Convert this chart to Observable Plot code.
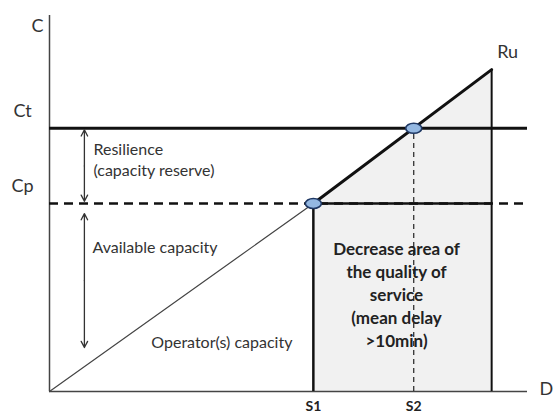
<!DOCTYPE html>
<html>
<head>
<meta charset="utf-8">
<script src="https://cdn.jsdelivr.net/npm/d3@7"></script>
<script src="https://cdn.jsdelivr.net/npm/@observablehq/plot@0.6"></script>
<style>
  html, body { margin: 0; padding: 0; background: #fff; }
</style>
</head>
<body>
<div id="chart"></div>
<script>
// ---- values (abstract units: D and C both 0..100) ----
const D_MAX = 100, C_MAX = 100;
const S1 = 55.2, S2 = 76.2, RU_D = 92.5;
const CP = 50, CT = 70, RU_C = 85.6;
const levelLabels = ["Ct", "Cp"];
const levelValues = [CT, CP];
const sLabels = ["S1", "S2"];
const sValues = [S1, S2];
const boxText = ["Decrease area of", "the quality of", "service", "(mean delay", ">10min)"];
const resilienceText = ["Resilience", "(capacity reserve)"];
const ARROW_X = 7.3;
const AVAIL_TOP = 47.3, AVAIL_BOTTOM = 11.7;

// ---- derived tables ----
const thin = [{x: 0, y: 0}, {x: S1, y: CP}];
const thick = [{x: S1, y: CP}, {x: RU_D, y: RU_C}];
const points = [{x: S1, y: CP}, {x: S2, y: CT}];
const levels = levelLabels.map((l, i) => ({label: l, y: levelValues[i]}));
const sTicks = sLabels.map((l, i) => ({label: l, x: sValues[i]}));

const resMid = (CT + CP) / 2, availMid = (AVAIL_TOP + AVAIL_BOTTOM) / 2;
const arrows = [
  {x1: ARROW_X, y1: resMid, x2: ARROW_X, y2: CT - 0.4},
  {x1: ARROW_X, y1: resMid, x2: ARROW_X, y2: CP + 0.6},
  {x1: ARROW_X, y1: availMid, x2: ARROW_X, y2: AVAIL_TOP},
  {x1: ARROW_X, y1: availMid, x2: ARROW_X, y2: AVAIL_BOTTOM}
];

// ellipse symbol for the intersection points
const ellipse = {
  draw(context) {
    const rx = 8, ry = 5, k = 0.5523;
    context.moveTo(rx, 0);
    context.bezierCurveTo(rx, k * ry, k * rx, ry, 0, ry);
    context.bezierCurveTo(-k * rx, ry, -rx, k * ry, -rx, 0);
    context.bezierCurveTo(-rx, -k * ry, -k * rx, -ry, 0, -ry);
    context.bezierCurveTo(k * rx, -ry, rx, -k * ry, rx, 0);
    context.closePath();
  }
};

const font = "Lato, 'Open Sans', sans-serif";

const chart = Plot.plot({
  width: 553,
  height: 414,
  marginLeft: 49,
  marginRight: 26,
  marginTop: 15,
  marginBottom: 23,
  style: {fontFamily: font, background: "#fff", overflow: "visible"},
  x: {domain: [0, D_MAX], axis: null},
  y: {domain: [0, C_MAX], axis: null},
  marks: [
    // shaded area
    Plot.areaY([{x: S1, y: CP, y0: 0}, {x: RU_D, y: RU_C, y0: 0}], {x: "x", y1: "y0", y2: "y", fill: "#f1f1f1"}),
    // axes
    Plot.ruleX([0], {y1: 0, y2: C_MAX, stroke: "#444", strokeWidth: 1.5}),
    Plot.ruleY([0], {x1: 0, x2: D_MAX, stroke: "#444", strokeWidth: 1.5}),
    // thin operator capacity line
    Plot.line(thin, {x: "x", y: "y", stroke: "#444", strokeWidth: 1.2}),
    // S2 dashed vertical
    Plot.ruleX([S2], {y1: 0, y2: CT, stroke: "#222", strokeWidth: 1.2, strokeDasharray: "5,4"}),
    // Cp dashed line
    Plot.ruleY([CP], {x1: 0, x2: D_MAX, stroke: "#111", strokeWidth: 2.5, strokeDasharray: "9,6"}),
    Plot.ruleY([CP], {x1: S1, x2: RU_D, stroke: "#111", strokeWidth: 2.5}),
    // Ct solid line
    Plot.ruleY([CT], {x1: 0, x2: D_MAX, stroke: "#111", strokeWidth: 3}),
    // box edges
    Plot.ruleX([S1], {y1: 0, y2: CP, stroke: "#111", strokeWidth: 2.5}),
    Plot.ruleX([RU_D], {y1: 0, y2: RU_C, stroke: "#111", strokeWidth: 2}),
    // thick Ru line
    Plot.line(thick, {x: "x", y: "y", stroke: "#111", strokeWidth: 3}),
    // arrows
    Plot.arrow(arrows, {x1: "x1", y1: "y1", x2: "x2", y2: "y2", stroke: "#333", strokeWidth: 1.3, headLength: 8, headAngle: 55}),
    // intersection points
    Plot.dot(points, {x: "x", y: "y", symbol: ellipse, fill: "#94b8e2", stroke: "#1f3864", strokeWidth: 1.6}),
    // axis names
    Plot.text(["C"], {x: 0, y: C_MAX, text: d => d, dx: -12, dy: 11, fontSize: 18, fill: "#333"}),
    Plot.text(["D"], {x: D_MAX, y: 0, text: d => d, dx: 12, dy: -2, textAnchor: "start", fontSize: 18, fill: "#333"}),
    Plot.text(["Ru"], {x: RU_D, y: RU_C, text: d => d, dx: 16, dy: -17, fontSize: 18, fill: "#333"}),
    // level labels
    Plot.text(levels, {x: 0, y: "y", text: "label", dx: -27, dy: -17, fontSize: 18, fill: "#333"}),
    // S labels
    Plot.text(sTicks, {x: "x", y: 0, text: "label", dy: 15, fontSize: 14, fontWeight: "bold", fill: "#222"}),
    // annotations
    Plot.text([resilienceText.join("\n")], {x: 9.2, y: 61.8, text: d => d, textAnchor: "start", fontSize: 16, lineHeight: 1.32, fill: "#333"}),
    Plot.text(["Available capacity"], {x: 9.0, y: 38.3, text: d => d, textAnchor: "start", fontSize: 16, fill: "#333"}),
    Plot.text(["Operator(s) capacity"], {x: 21.3, y: 12.8, text: d => d, textAnchor: "start", fontSize: 16, fill: "#333"}),
    Plot.text([boxText.join("\n")], {x: 72.6, y: 26.1, text: d => d, fontSize: 17, fontWeight: "bold", lineHeight: 1.35, fill: "#222"})
  ]
});

document.getElementById("chart").appendChild(chart);
</script>
</body>
</html>
